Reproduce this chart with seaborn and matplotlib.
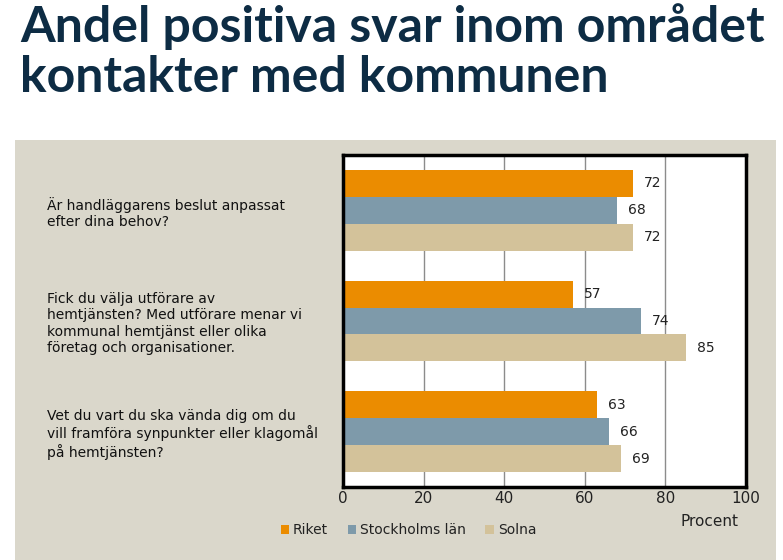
import matplotlib
matplotlib.use("Agg")
import matplotlib.pyplot as plt
import seaborn as sns
import pandas as pd
from matplotlib.patches import Rectangle

questions = [
    "Är handläggarens beslut anpassat\nefter dina behov?",
    "Fick du välja utförare av\nhemtjänsten? Med utförare menar vi\nkommunal hemtjänst eller olika\nföretag och organisationer.",
    "Vet du vart du ska vända dig om du\nvill framföra synpunkter eller klagomål\npå hemtjänsten?",
]
series = ["Riket", "Stockholms län", "Solna"]
riket = [72, 57, 63]
stockholm = [68, 74, 66]
solna = [72, 85, 69]
colors = ["#EB8C00", "#7E9AAA", "#D3C29A"]
xticks = [0, 20, 40, 60, 80, 100]

rows = []
for s, vals in zip(series, [riket, stockholm, solna]):
    for q, v in zip(questions, vals):
        rows.append({"q": q, "serie": s, "v": v})
df = pd.DataFrame(rows)

sns.set_theme(style="white")
plt.rcParams["font.family"] = ["DejaVu Sans"]

W, H = 783, 560
fig = plt.figure(figsize=(W / 100, H / 100), dpi=100)
fig.patch.set_facecolor("white")
bg = Rectangle((15 / W, 0), (776 - 15) / W, (560 - 140) / H,
               transform=fig.transFigure, facecolor="#DAD7CB",
               edgecolor="none", zorder=-10)
fig.add_artist(bg)

ax = fig.add_axes([343 / W, 1 - 487 / H, (746 - 343) / W, (487 - 155) / H])
ax.set_zorder(1)
ax.set_facecolor("white")
sns.barplot(data=df, y="q", x="v", hue="serie", hue_order=series,
            palette=colors, orient="h", width=0.73, ax=ax, saturation=1,
            legend=True, linewidth=0)

for cont in ax.containers:
    ax.bar_label(cont, padding=8, fontsize=10, color="#222222")

ax.set_xlim(0, 100)
ax.set_xticks(xticks)
ax.set_xticklabels([str(t) for t in xticks], fontsize=11, color="#222222")
ax.tick_params(axis="x", length=0, pad=3)
ax.xaxis.grid(True, color="#8C8C8C", linewidth=1)
ax.set_axisbelow(True)
ax.set_xlabel("")
ax.set_ylabel("")
for lab in ax.get_yticklabels():
    lab.set_ha("left")
    lab.set_fontsize(10)
    lab.set_color("#111111")
    lab.set_linespacing(1.2)
ax.tick_params(axis="y", length=0, pad=(343 - 47) * 0.72)
for sp in ax.spines.values():
    sp.set_visible(True)
    sp.set_color("black")
    sp.set_linewidth(2.5)

fig.text(710 / W, 1 - 521 / H, "Procent", fontsize=11, color="#222222",
         ha="center", va="center")

leg = ax.get_legend()
handles = leg.legend_handles
leg.remove()
fig.legend(handles, series, loc="center left",
           bbox_to_anchor=(268 / W, 1 - 530 / H), ncol=3, frameon=False,
           fontsize=10, handlelength=0.6, handleheight=0.6, handletextpad=0.3,
           columnspacing=1.4, labelcolor="#222222")

fig.text(20 / W, 1 - 27 / H, "Andel positiva svar inom området", fontsize=36,
         fontweight="bold", color="#0D2C44", ha="left", va="center",
         family="Lato")
fig.text(20 / W, 1 - 78 / H, "kontakter med kommunen", fontsize=36,
         fontweight="bold", color="#0D2C44", ha="left", va="center",
         family="Lato")

fig.savefig("out.png", dpi=100, facecolor=fig.get_facecolor())
